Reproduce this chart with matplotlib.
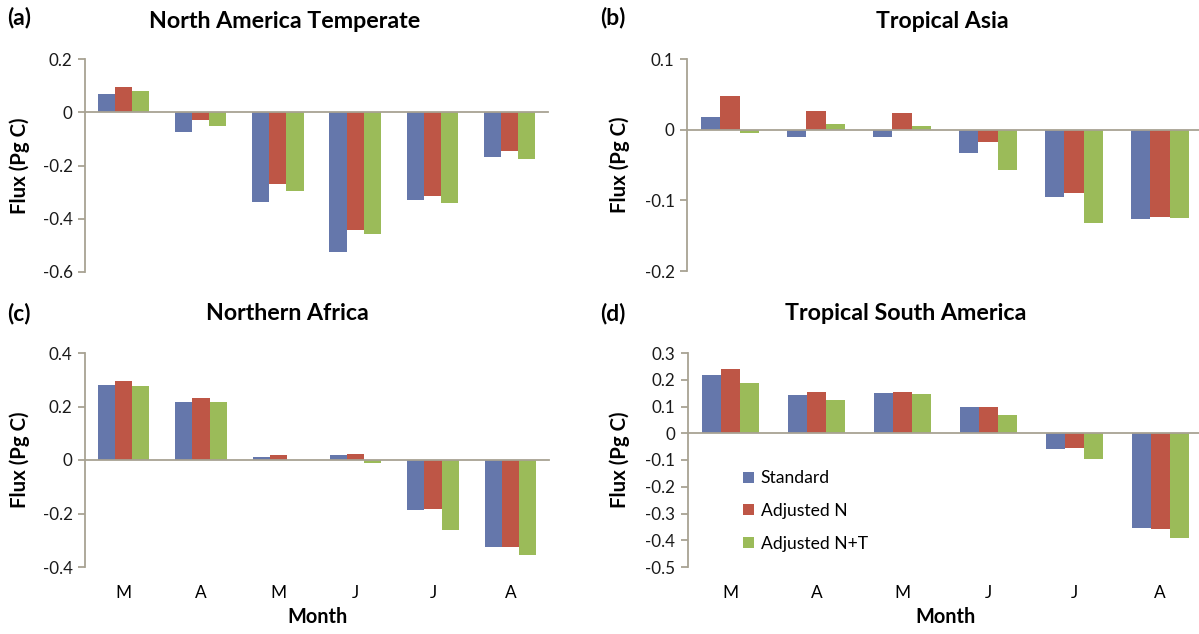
import matplotlib
matplotlib.use("Agg")
import matplotlib.pyplot as plt
import numpy as np
from matplotlib.ticker import FuncFormatter

plt.rcParams['font.family'] = ['Lato', 'DejaVu Sans']
plt.rcParams['axes.unicode_minus'] = False

months = ["M", "A", "M", "J", "J", "A"]
series_names = ["Standard", "Adjusted N", "Adjusted N+T"]
colors = ["#6577AB", "#BE5646", "#9BBB59"]

# (a) North America Temperate
na_standard = [0.067, -0.073, -0.337, -0.525, -0.328, -0.168]
na_adj_n = [0.095, -0.028, -0.270, -0.444, -0.313, -0.144]
na_adj_nt = [0.081, -0.051, -0.295, -0.458, -0.342, -0.176]

# (b) Tropical Asia
ta_standard = [0.018, -0.010, -0.011, -0.033, -0.095, -0.127]
ta_adj_n = [0.048, 0.027, 0.024, -0.017, -0.089, -0.123]
ta_adj_nt = [-0.005, 0.008, 0.005, -0.057, -0.132, -0.125]

# (c) Northern Africa
af_standard = [0.281, 0.216, 0.012, 0.017, -0.188, -0.325]
af_adj_n = [0.297, 0.231, 0.019, 0.024, -0.183, -0.324]
af_adj_nt = [0.277, 0.216, 0.001, -0.010, -0.260, -0.356]

# (d) Tropical South America
sa_standard = [0.219, 0.142, 0.150, 0.097, -0.060, -0.356]
sa_adj_n = [0.239, 0.156, 0.155, 0.099, -0.056, -0.359]
sa_adj_nt = [0.186, 0.126, 0.145, 0.070, -0.095, -0.390]

panels = [
    ("(a)", "North America Temperate", [na_standard, na_adj_n, na_adj_nt], (-0.6, 0.2), 0.2),
    ("(b)", "Tropical Asia", [ta_standard, ta_adj_n, ta_adj_nt], (-0.2, 0.1), 0.1),
    ("(c)", "Northern Africa", [af_standard, af_adj_n, af_adj_nt], (-0.4, 0.4), 0.2),
    ("(d)", "Tropical South America", [sa_standard, sa_adj_n, sa_adj_nt], (-0.5, 0.3), 0.1),
]

W, H = 1199, 634
fig = plt.figure(figsize=(W / 100, H / 100), dpi=100)
renderer = fig.canvas.get_renderer()


def fit_size(s, target_px, weight="normal", rotation=0, base=20):
    t = fig.text(0, 0, s, fontsize=base, fontweight=weight, rotation=rotation)
    ext = t.get_window_extent(renderer)
    size = ext.height if rotation else ext.width
    t.remove()
    return base * target_px / size


tick_fs = fit_size("-0.6", 30)
ylab_fs = fit_size("Flux (Pg C)", 97, "bold", 90)
month_fs = fit_size("Month", 60, "bold")
panel_fs = fit_size("(a)", 24, "bold")
legend_fs = fit_size("Adjusted N+T", 107)
title_widths = [271, 132, 163, 241]

# axes boxes in pixels: left, right, top, bottom
boxes = [(85, 548, 59, 272), (687, 1203, 59, 271), (85, 549, 353, 567), (688, 1203, 353, 567)]
label_pos = [(7, 18), (600, 18), (7, 313), (600, 313)]
title_pos = [(285, 21), (942, 21), (287, 314), (906, 314)]
ylabel_right = [30, 630, 30, 630]

axis_color = "#A8A293"
bw = 0.222
x = np.arange(len(months))


def fmt(v, pos):
    if abs(v) < 1e-9:
        return "0"
    return f"{v:g}"


for i, (lab, title, data, ylim, step) in enumerate(panels):
    l, r, t, b = boxes[i]
    ax = fig.add_axes([l / W, 1 - b / H, (r - l) / W, (b - t) / H])
    for k, vals in enumerate(data):
        ax.bar(x + (k - 1) * bw, vals, width=bw, color=colors[k], label=series_names[k],
               edgecolor="none", zorder=2)
    ax.set_xlim(-0.5, 5.5)
    ax.set_ylim(*ylim)
    ax.set_yticks(np.round(np.arange(ylim[0], ylim[1] + step / 2, step), 3))
    ax.yaxis.set_major_formatter(FuncFormatter(fmt))
    ax.axhline(0, color=axis_color, lw=1.3, zorder=3, clip_on=False)
    for s in ["top", "right", "bottom"]:
        ax.spines[s].set_visible(False)
    ax.spines["left"].set_color(axis_color)
    ax.spines["left"].set_linewidth(1.3)
    ax.tick_params(axis="y", direction="out", length=5, width=1.3, color=axis_color,
                   labelsize=tick_fs, labelcolor="#1a1a1a", pad=4)
    ax.set_ylabel("Flux (Pg C)", fontsize=ylab_fs, fontweight="bold")
    ax.yaxis.set_label_coords((ylabel_right[i] - l) / (r - l), 0.5)
    if i >= 2:
        ax.set_xticks(x)
        ax.set_xticklabels(months)
        ax.tick_params(axis="x", length=0, labelsize=tick_fs * 1.02)
        for tl in ax.get_xticklabels():
            tl.set_va("center")
        ax.tick_params(axis="x", pad=19)
        ax.set_xlabel("Month", fontsize=month_fs, fontweight="bold")
        ax.xaxis.set_label_coords(0.5, (b - 617) / (b - t))
        ax.xaxis.label.set_va("center")
    else:
        ax.set_xticks([])
    fig.text(label_pos[i][0] / W, 1 - label_pos[i][1] / H, lab, fontsize=panel_fs,
             fontweight="bold", ha="left", va="center")
    tfs = fit_size(title, title_widths[i], "bold")
    fig.text(title_pos[i][0] / W, 1 - title_pos[i][1] / H, title, fontsize=tfs,
             fontweight="bold", ha="center", va="center")
    if i == 3:
        ax.legend(loc="center left", bbox_to_anchor=((743 - l) / (r - l), (b - 511) / (b - t)),
                  frameon=False, fontsize=legend_fs, handlelength=0.6, handleheight=0.6,
                  handletextpad=0.4, labelspacing=0.95, borderpad=0, borderaxespad=0)

fig.savefig("out.png", dpi=100)
